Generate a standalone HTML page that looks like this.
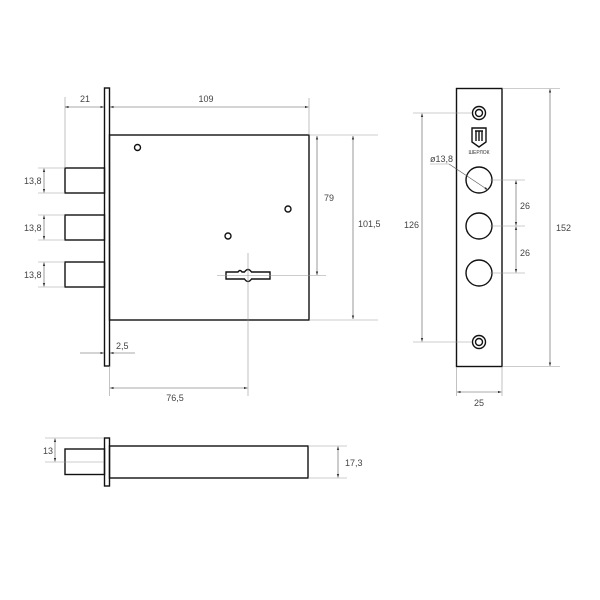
<!DOCTYPE html>
<html><head><meta charset="utf-8"><style>
html,body{margin:0;padding:0;background:#fff;}
svg{display:block;}
text{font-family:"Liberation Sans","DejaVu Sans",sans-serif;font-size:9px;fill:#444;}
.o{fill:none;stroke:#111;stroke-width:1.4;}
.t{fill:none;stroke:#999;stroke-width:0.6;}
.d{fill:none;stroke:#555;stroke-width:0.6;}
</style></head><body>
<svg width="600" height="600" viewBox="0 0 600 600" xmlns="http://www.w3.org/2000/svg">
<defs>
<marker id="a" viewBox="0 0 6 6" refX="6" refY="3" markerWidth="6" markerHeight="6" orient="auto-start-reverse"><path d="M0,1 L6,3 L0,5 z" fill="#333"/></marker>
</defs>
<!-- Side view -->
<rect class="o" x="104.5" y="88" width="5" height="278"/>
<rect class="o" x="109.5" y="135" width="199.5" height="185"/>
<rect class="o" x="65" y="168" width="39.5" height="25"/>
<rect class="o" x="65" y="215" width="39.5" height="25"/>
<rect class="o" x="65" y="262" width="39.5" height="25"/>
<circle class="o" cx="137.5" cy="147.5" r="3"/>
<circle class="o" cx="288" cy="209" r="3"/>
<circle class="o" cx="228" cy="236" r="3"/>
<path class="o" stroke-width="1.1" d="M226,272 L238,272 Q240,269 242,272 L244.5,272 Q248,267 251.5,272 L270,272 L270,279 L251.5,279 Q248,284 244.5,279 L226,279 Z"/>
<!-- extension lines -->
<line class="t" x1="65" y1="97" x2="65" y2="168"/>
<line class="t" x1="309" y1="98" x2="309" y2="135"/>
<line class="t" x1="309" y1="135" x2="378" y2="135"/>
<line class="t" x1="309" y1="320" x2="378" y2="320"/>
<line class="t" x1="217" y1="275.5" x2="326" y2="275.5"/>
<line class="t" x1="248" y1="253" x2="248" y2="396"/>
<line class="t" x1="109.5" y1="366" x2="109.5" y2="396"/>
<line class="t" x1="38" y1="168" x2="65" y2="168"/><line class="t" x1="38" y1="193" x2="65" y2="193"/>
<line class="t" x1="38" y1="215" x2="65" y2="215"/><line class="t" x1="38" y1="240" x2="65" y2="240"/>
<line class="t" x1="38" y1="262" x2="65" y2="262"/><line class="t" x1="38" y1="287" x2="65" y2="287"/>
<!-- dims -->
<line class="d" x1="65" y1="107" x2="104" y2="107" marker-start="url(#a)" marker-end="url(#a)"/>
<text x="85" y="102" text-anchor="middle">21</text>
<line class="d" x1="110" y1="107" x2="308.5" y2="107" marker-start="url(#a)" marker-end="url(#a)"/>
<text x="206" y="102" text-anchor="middle">109</text>
<line class="d" x1="317" y1="136" x2="317" y2="275" marker-start="url(#a)" marker-end="url(#a)"/>
<text x="324" y="201">79</text>
<line class="d" x1="353" y1="136" x2="353" y2="319" marker-start="url(#a)" marker-end="url(#a)"/>
<text x="358" y="227">101,5</text>
<line class="d" x1="44" y1="168.5" x2="44" y2="192.5" marker-start="url(#a)" marker-end="url(#a)"/>
<line class="d" x1="44" y1="215.5" x2="44" y2="239.5" marker-start="url(#a)" marker-end="url(#a)"/>
<line class="d" x1="44" y1="262.5" x2="44" y2="286.5" marker-start="url(#a)" marker-end="url(#a)"/>
<text x="24" y="184">13,8</text><text x="24" y="231">13,8</text><text x="24" y="278">13,8</text>
<line class="d" x1="80" y1="353" x2="104" y2="353" marker-end="url(#a)"/>
<line class="d" x1="135" y1="353" x2="110" y2="353" marker-end="url(#a)"/>
<text x="116" y="349">2,5</text>
<line class="d" x1="110" y1="388" x2="247.5" y2="388" marker-start="url(#a)" marker-end="url(#a)"/>
<text x="175" y="401" text-anchor="middle">76,5</text>

<!-- Strike plate -->
<rect class="o" x="456.5" y="88.5" width="45.5" height="278"/>
<circle class="o" cx="479" cy="113" r="6.5"/><circle class="o" cx="479" cy="113" r="3.5"/>
<circle class="o" cx="479" cy="342" r="6.5"/><circle class="o" cx="479" cy="342" r="3.5"/>
<path class="o" stroke-width="1" d="M472,128 L486,128 L486,142 L479,147 L472,142 Z"/>
<path class="o" stroke-width="1" d="M475,131 L483,131 M476,131 L476,141 M479,131 L479,141 M482,131 L482,141"/>
<text x="479" y="154" text-anchor="middle" style="font-size:5px;fill:#333">ШЕРЛОК</text>
<circle class="o" cx="479" cy="180" r="13"/>
<circle class="o" cx="479" cy="226" r="13"/>
<circle class="o" cx="479" cy="273" r="13"/>
<line class="d" x1="449" y1="164" x2="488" y2="190" marker-end="url(#a)"/>
<line class="t" x1="430" y1="164" x2="449" y2="164"/>
<text x="430" y="162">ø13,8</text>
<line class="t" x1="413" y1="113" x2="472" y2="113"/>
<line class="t" x1="413" y1="342" x2="472" y2="342"/>
<line class="d" x1="422" y1="113.5" x2="422" y2="341.5" marker-start="url(#a)" marker-end="url(#a)"/>
<text x="404" y="228">126</text>
<line class="t" x1="502" y1="88.5" x2="560" y2="88.5"/>
<line class="t" x1="502" y1="366.5" x2="560" y2="366.5"/>
<line class="d" x1="550" y1="89" x2="550" y2="366" marker-start="url(#a)" marker-end="url(#a)"/>
<text x="556" y="231">152</text>
<line class="t" x1="490" y1="180" x2="525" y2="180"/>
<line class="t" x1="490" y1="226" x2="525" y2="226"/>
<line class="t" x1="490" y1="273" x2="525" y2="273"/>
<line class="d" x1="516" y1="180.5" x2="516" y2="225.5" marker-start="url(#a)" marker-end="url(#a)"/>
<line class="d" x1="516" y1="226.5" x2="516" y2="272.5" marker-start="url(#a)" marker-end="url(#a)"/>
<text x="520" y="209">26</text><text x="520" y="256">26</text>
<line class="t" x1="456.5" y1="367" x2="456.5" y2="396"/>
<line class="t" x1="502" y1="367" x2="502" y2="396"/>
<line class="d" x1="457" y1="392" x2="501.5" y2="392" marker-start="url(#a)" marker-end="url(#a)"/>
<text x="479" y="406" text-anchor="middle">25</text>

<!-- Bottom view -->
<rect class="o" x="104.5" y="438" width="5" height="48"/>
<rect class="o" x="109.5" y="446" width="198.5" height="32"/>
<rect class="o" x="65" y="449" width="39.5" height="25.5"/>
<line class="t" x1="45" y1="438" x2="104" y2="438"/>
<line class="t" x1="45" y1="462" x2="104" y2="462"/>
<line class="d" x1="55" y1="438.5" x2="55" y2="461.5" marker-start="url(#a)" marker-end="url(#a)"/>
<text x="43" y="454">13</text>
<line class="t" x1="308" y1="446" x2="347" y2="446"/>
<line class="t" x1="308" y1="478" x2="347" y2="478"/>
<line class="d" x1="338" y1="446.5" x2="338" y2="477.5" marker-start="url(#a)" marker-end="url(#a)"/>
<text x="345" y="466">17,3</text>
</svg>
</body></html>
